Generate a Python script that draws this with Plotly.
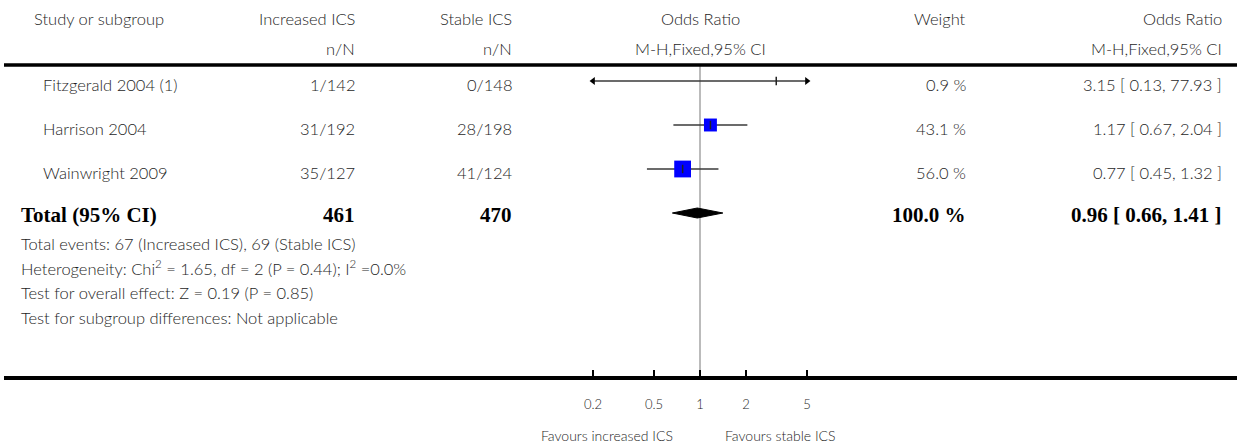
import plotly.graph_objects as go

# ---------------- data ----------------
studies = ["Fitzgerald 2004 (1)", "Harrison 2004", "Wainwright 2009"]
inc_events = [1, 31, 35]
inc_total = [142, 192, 127]
stable_events = [0, 28, 41]
stable_total = [148, 198, 124]
weights = [0.9, 43.1, 56.0]
or_est = [3.15, 1.17, 0.77]
or_lo = [0.13, 0.67, 0.45]
or_hi = [77.93, 2.04, 1.32]

total_label = "Total (95% CI)"
total_inc = 461
total_stable = 470
total_weight = 100.0
total_or = 0.96
total_lo = 0.66
total_hi = 1.41

tick_vals = [0.2, 0.5, 1, 2, 5]
tick_text = ["0.2", "0.5", "1", "2", "5"]
axis_min, axis_max = 0.2, 5

header1 = ["Study or subgroup", "Increased ICS", "Stable ICS", "Odds Ratio", "Weight", "Odds Ratio"]
header2 = ["", "n/N", "n/N", "M-H,Fixed,95% CI", "", "M-H,Fixed,95% CI"]
footers = [
    "Total events: 67 (Increased ICS), 69 (Stable ICS)",
    "Heterogeneity: Chi<sup>2</sup> = 1.65, df = 2 (P = 0.44); I<sup>2</sup> =0.0%",
    "Test for overall effect: Z = 0.19 (P = 0.85)",
    "Test for subgroup differences: Not applicable",
]
favours = ["Favours increased ICS", "Favours stable ICS"]

# ---------------- layout constants (pixels) ----------------
W, H = 1237, 446
px_per_decade = 153.0
x_one = 700.0
x_left = 4.0
row_y = [81, 125, 169]
text_dy = 4
total_y = 213
head_y = [19, 49]
top_line_y = 65
axis_y = 378
footer_y = [244, 268, 293, 318]
fav_y = 435
col_study_head = 32
col_study = 41
col_left = 19
col_inc = 357
col_stable = 514
col_weight = 968
col_or = 1224

FONT = "Lato, 'Open Sans', sans-serif"
SERIF = "'Liberation Serif', 'DejaVu Serif', serif"
TXT = "#1e1e1e"
FS = 16.5
FSB = 21


def px(x):
    return x / W


fig = go.Figure()

# CI lines and squares
for i in range(len(studies)):
    lo = max(or_lo[i], axis_min)
    hi = min(or_hi[i], axis_max)
    fig.add_trace(go.Scatter(x=[lo, hi], y=[row_y[i], row_y[i]], mode="lines",
                             line=dict(color="#3a3a3a", width=1.5), hoverinfo="skip"))
    if or_lo[i] < axis_min:
        fig.add_trace(go.Scatter(x=[axis_min], y=[row_y[i]], mode="markers",
                                 marker=dict(symbol="triangle-left", size=7, color="black"),
                                 hoverinfo="skip"))
    if or_hi[i] > axis_max:
        fig.add_trace(go.Scatter(x=[axis_max], y=[row_y[i]], mode="markers",
                                 marker=dict(symbol="triangle-right", size=7, color="black"),
                                 hoverinfo="skip"))
    fig.add_trace(go.Scatter(x=[or_est[i]], y=[row_y[i]], mode="markers",
                             marker=dict(symbol="square", size=weights[i] * 0.3,
                                         color="#0000ff", line=dict(width=0)),
                             hoverinfo="skip"))
    fig.add_trace(go.Scatter(x=[or_est[i]], y=[row_y[i]], mode="markers",
                             marker=dict(symbol="line-ns", size=6,
                                         line=dict(color="#222222", width=1.5)),
                             hoverinfo="skip"))

# diamond for total
fig.add_trace(go.Scatter(
    x=[total_lo, total_or, total_hi, total_or, total_lo],
    y=[total_y, total_y - 5, total_y, total_y + 5, total_y],
    mode="lines", fill="toself", fillcolor="black",
    line=dict(color="black", width=1), hoverinfo="skip"))

ann = []


def add(text, x, y, anchor, size=FS, family=FONT, color=TXT, weight=300):
    ann.append(dict(text=text, x=px(x), y=y, xref="paper", yref="y",
                    xanchor=anchor, yanchor="middle", showarrow=False,
                    font=dict(size=size, family=family, color=color, weight=weight)))


# headers
add(header1[0], col_study_head, head_y[0], "left")
add(header1[1], col_inc, head_y[0], "right")
add(header1[2], col_stable, head_y[0], "right")
add(header1[3], x_one, head_y[0], "center")
add(header1[4], col_weight, head_y[0], "right")
add(header1[5], col_or, head_y[0], "right")
add(header2[1], col_inc, head_y[1], "right")
add(header2[2], col_stable, head_y[1], "right")
add(header2[3], x_one, head_y[1], "center")
add(header2[5], col_or, head_y[1], "right")

# study rows
for i in range(len(studies)):
    y = row_y[i] + text_dy
    add(studies[i], col_study, y, "left")
    add(f"{inc_events[i]}/{inc_total[i]}", col_inc, y, "right")
    add(f"{stable_events[i]}/{stable_total[i]}", col_stable, y, "right")
    add(f"{weights[i]:.1f} %", col_weight, y, "right")
    add(f"{or_est[i]:.2f} [ {or_lo[i]:.2f}, {or_hi[i]:.2f} ]", col_or, y, "right")

# total row
ty = total_y + 2
add(f"<b>{total_label}</b>", col_left, ty, "left", FSB, SERIF, "black", 700)
add(f"<b>{total_inc}</b>", col_inc, ty, "right", FSB, SERIF, "black", 700)
add(f"<b>{total_stable}</b>", col_stable, ty, "right", FSB, SERIF, "black", 700)
add(f"<b>{total_weight:.1f} %</b>", col_weight, ty, "right", FSB, SERIF, "black", 700)
add(f"<b>{total_or:.2f} [ {total_lo:.2f}, {total_hi:.2f} ]</b>", col_or, ty, "right", FSB, SERIF, "black", 700)

# footers
for t, y in zip(footers, footer_y):
    add(t, col_left, y, "left")

# favours labels
add(favours[0], 675, fav_y, "right", 14)
add(favours[1], 723, fav_y, "left", 14)

shapes = [
    dict(type="line", xref="paper", yref="y", x0=px(x_left), x1=1, y0=top_line_y, y1=top_line_y,
         line=dict(color="black", width=3.5)),
    dict(type="line", xref="x", yref="y", x0=1, x1=1, y0=top_line_y, y1=axis_y,
         line=dict(color="#bbbbbb", width=2), layer="below"),
]

dom0 = x_left / W
log_left = -(x_one - x_left) / px_per_decade
log_right = (W - x_one) / px_per_decade

fig.update_layout(
    width=W, height=H,
    margin=dict(l=0, r=0, t=0, b=0),
    paper_bgcolor="white", plot_bgcolor="white",
    showlegend=False,
    annotations=ann,
    shapes=shapes,
    xaxis=dict(type="log", range=[log_left, log_right], domain=[dom0, 1],
               anchor="free", position=1 - axis_y / H,
               showgrid=False, zeroline=False,
               showline=True, linecolor="black", linewidth=3.5,
               ticks="inside", ticklen=6, tickwidth=2, tickcolor="black",
               tickvals=tick_vals, ticktext=tick_text,
               tickfont=dict(size=13, family=FONT, color=TXT, weight=300),
               ticklabelstandoff=14, fixedrange=True),
    yaxis=dict(range=[H, 0], domain=[0, 1], visible=False, showgrid=False,
               zeroline=False, fixedrange=True),
)

fig.write_html("out.html", config={"displayModeBar": False},
               post_script="document.body.style.margin='0px';document.body.style.overflow='hidden';")
